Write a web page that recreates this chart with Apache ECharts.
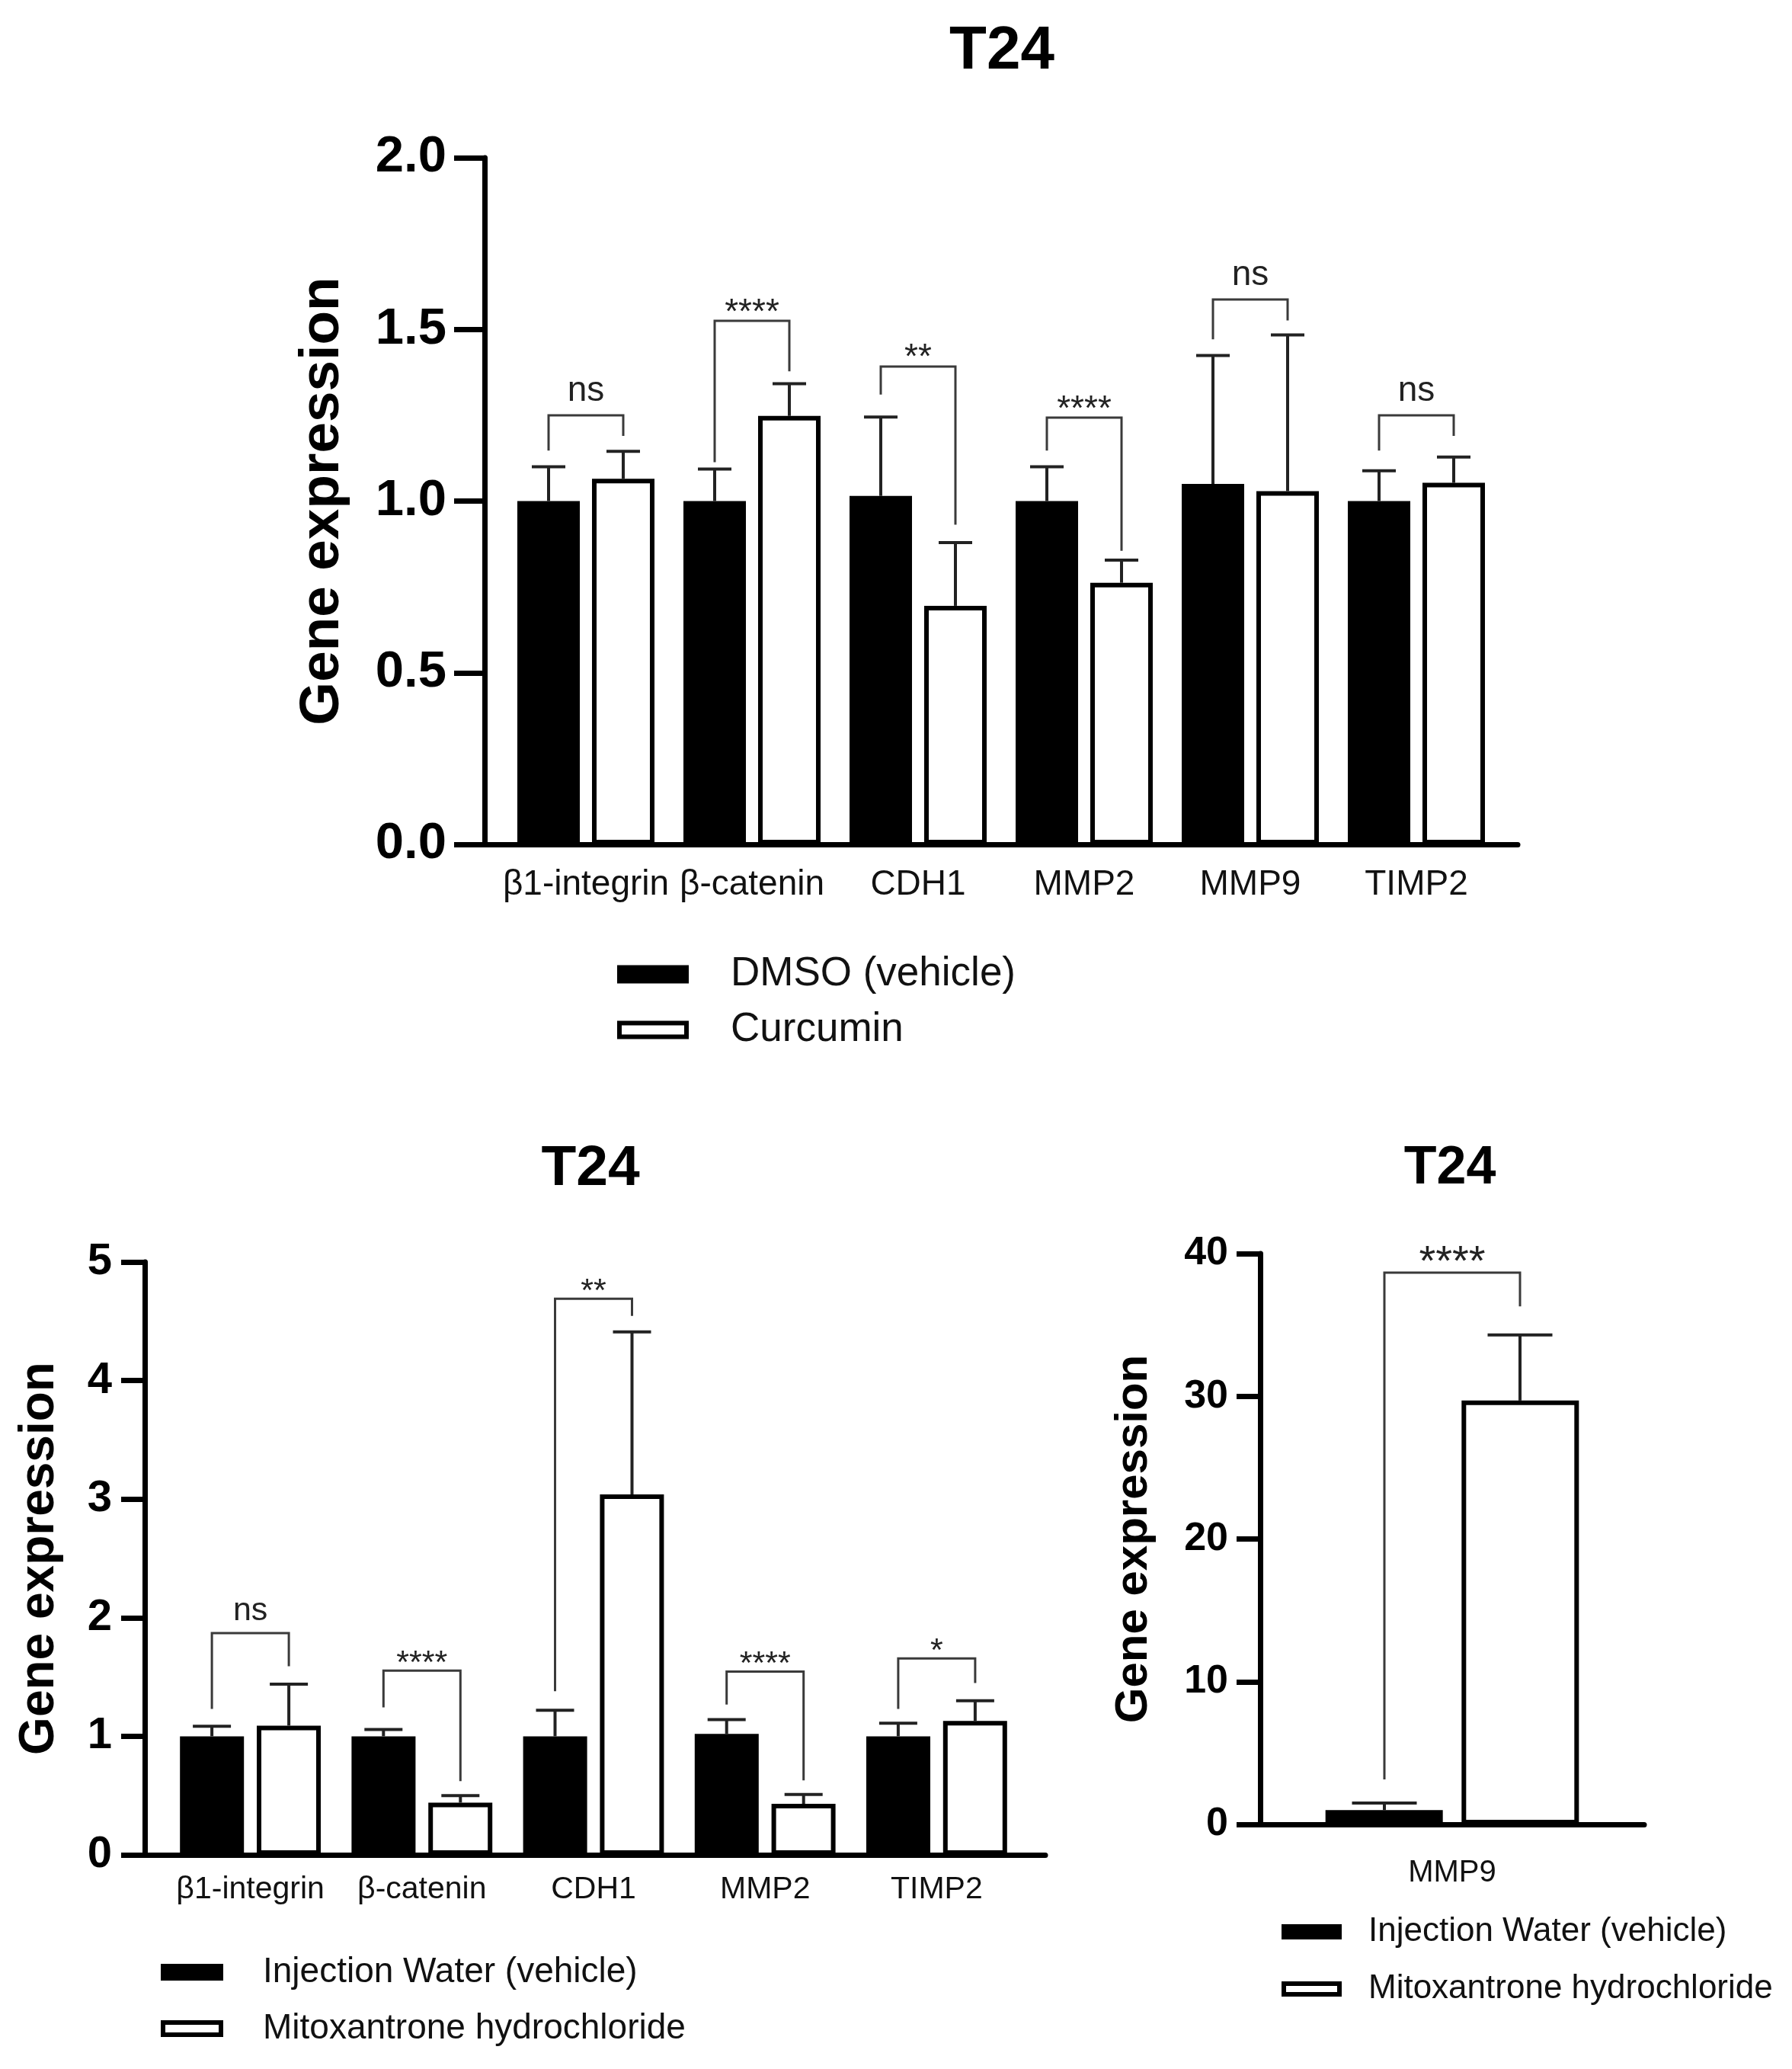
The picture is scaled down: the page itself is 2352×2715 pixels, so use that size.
<!DOCTYPE html>
<html><head><meta charset="utf-8">
<script src="https://cdn.jsdelivr.net/npm/echarts/dist/echarts.min.js"></script>
<style>html,body{margin:0;padding:0;background:#fff}#c{width:2352px;height:2715px}</style>
</head><body><div id="c"></div>
<script>
// ---------- Data: top chart (DMSO vs Curcumin) ----------
const cats1 = ['β1-integrin', 'β-catenin', 'CDH1', 'MMP2', 'MMP9', 'TIMP2'];
const dmso = [1.00, 1.00, 1.015, 1.00, 1.05, 1.00];
const dmsoUpper = [1.10, 1.093, 1.245, 1.10, 1.424, 1.088];
const curcumin = [1.065, 1.248, 0.695, 0.762, 1.029, 1.053];
const curcuminUpper = [1.145, 1.342, 0.879, 0.828, 1.484, 1.128];
const sig1 = ['ns', '****', '**', '****', 'ns', 'ns'];
const sig1Top = [1.25, 1.525, 1.392, 1.243, 1.587, 1.25];
const sig1Left = [1.147, 1.113, 1.31, 1.147, 1.471, 1.147];
const sig1Right = [1.19, 1.378, 0.931, 0.855, 1.526, 1.19];
const ticks1 = [0, 0.5, 1.0, 1.5, 2.0];

// ---------- Data: bottom-left chart (Injection water vs Mitoxantrone) ----------
const cats2 = ['β1-integrin', 'β-catenin', 'CDH1', 'MMP2', 'TIMP2'];
const water = [1.00, 1.00, 1.00, 1.02, 1.00];
const waterUpper = [1.085, 1.057, 1.22, 1.14, 1.11];
const mito = [1.09, 0.44, 3.04, 0.43, 1.13];
const mitoUpper = [1.44, 0.50, 4.41, 0.51, 1.30];
const sig2 = ['ns', '****', '**', '****', '*'];
const sig2Top = [1.87, 1.554, 4.69, 1.545, 1.656];
const sig2Left = [1.23, 1.244, 1.38, 1.268, 1.23];
const sig2Right = [1.59, 0.622, 4.545, 0.628, 1.45];
const ticks2 = [0, 1, 2, 3, 4, 5];

// ---------- Data: bottom-right chart (MMP9) ----------
const cats3 = ['MMP9'];
const water3 = [1.0];
const water3Upper = [1.5];
const mito3 = [29.7];
const mito3Upper = [34.3];
const sig3 = ['****'];
const sig3Top = [38.66];
const sig3Left = [3.15];
const sig3Right = [36.3];
const ticks3 = [0, 10, 20, 30, 40];

const S1 = 'DMSO (vehicle)', S2 = 'Curcumin';
const W1 = 'Injection Water (vehicle)', W2 = 'Mitoxantrone hydrochloride';
const FF = '"Liberation Sans", Arial, Helvetica, sans-serif';

function errSeries(xi, yi, vals, ups, off, capW, lw) {
  return {
    type: 'custom', xAxisIndex: xi, yAxisIndex: yi, clip: false, z: 4, silent: true,
    data: vals.map((v, i) => [i, v, ups[i]]),
    renderItem: (p, api) => {
      const b = api.coord([api.value(0), api.value(1)]);
      const t = api.coord([api.value(0), api.value(2)]);
      const x = b[0] + off;
      return { type: 'group', children: [
        { type: 'line', shape: { x1: x, y1: b[1], x2: x, y2: t[1] }, style: { stroke: '#222', lineWidth: lw } },
        { type: 'line', shape: { x1: x - capW / 2, y1: t[1], x2: x + capW / 2, y2: t[1] }, style: { stroke: '#222', lineWidth: lw } }
      ] };
    }
  };
}
function bracketSeries(xi, yi, tops, lefts, rights, labels, off, fs, lw) {
  return {
    type: 'custom', xAxisIndex: xi, yAxisIndex: yi, clip: false, z: 5, silent: true,
    data: tops.map((t, i) => [i, t, lefts[i], rights[i]]),
    renderItem: (p, api) => {
      const c = api.value(0);
      const tp = api.coord([c, api.value(1)]);
      const l = api.coord([c, api.value(2)]);
      const r = api.coord([c, api.value(3)]);
      const xl = tp[0] - off, xr = tp[0] + off;
      const lab = labels[p.dataIndex];
      const dy = lab.indexOf('*') >= 0 ? -0.22 * fs : -0.68 * fs;
      return { type: 'group', children: [
        { type: 'polyline', shape: { points: [[xl, l[1]], [xl, tp[1]], [xr, tp[1]], [xr, r[1]]] },
          style: { stroke: '#3a3a3a', lineWidth: lw, fill: null } },
        { type: 'text', style: { text: lab, x: (xl + xr) / 2, y: tp[1] + dy, align: 'center', verticalAlign: 'middle',
          fontSize: fs, fontFamily: FF, fill: '#222' } }
      ] };
    }
  };
}
function valueYAxis(gi, max, interval, fs, nameFs, nameGap, margin, tickLen, fmt) {
  return {
    gridIndex: gi, type: 'value', min: 0, max: max, interval: interval,
    name: 'Gene expression', nameLocation: 'middle', nameRotate: 90, nameGap: nameGap,
    nameTextStyle: { fontSize: nameFs, fontWeight: 'bold', color: '#000', fontFamily: FF },
    axisLine: { show: true, lineStyle: { color: '#000', width: 7 } },
    axisTick: { show: true, length: tickLen, lineStyle: { color: '#000', width: 7 } },
    axisLabel: { fontSize: fs, fontWeight: 'bold', color: '#000', fontFamily: FF, margin: margin, formatter: fmt },
    splitLine: { show: false }
  };
}
function hiddenY(gi, max) { return { gridIndex: gi, type: 'value', min: 0, max: max, show: false }; }
function lineX(gi) {
  return { gridIndex: gi, type: 'value', min: 0, max: 1, axisLine: { show: true, onZero: false, lineStyle: { color: '#000', width: 7 } },
    axisTick: { show: false }, axisLabel: { show: false }, splitLine: { show: false } };
}
function catX(gi, cats, fs, margin, showLine) {
  return { gridIndex: gi, type: 'category', data: cats,
    axisLine: { show: showLine, onZero: false, lineStyle: { color: '#000', width: 7 } },
    axisTick: { show: false },
    axisLabel: { fontSize: fs, color: '#111', fontFamily: FF, margin: margin, interval: 0 },
    splitLine: { show: false } };
}
function barPair(xi, yi, n1, d1, n2, d2, bw, gap, bwid) {
  return [
    { type: 'bar', name: n1, xAxisIndex: xi, yAxisIndex: yi, data: d1, barWidth: bw, barGap: gap,
      itemStyle: { color: '#000', borderColor: '#000', borderWidth: bwid }, silent: true },
    { type: 'bar', name: n2, xAxisIndex: xi, yAxisIndex: yi, data: d2, barWidth: bw, barGap: gap,
      itemStyle: { color: '#fff', borderColor: '#000', borderWidth: bwid }, silent: true }
  ];
}
function legend(n1, n2, left, top, iw, ih, fs, gap, pad) {
  return { data: [
      { name: n1, itemStyle: { color: '#000', borderColor: '#000', borderWidth: 6 } },
      { name: n2, itemStyle: { color: '#fff', borderColor: '#000', borderWidth: 6 } }
    ],
    orient: 'vertical', left: left, top: top, itemWidth: iw, itemHeight: ih, itemGap: gap,
    icon: 'rect', selectedMode: false, padding: 0,
    textStyle: { fontSize: fs, color: '#111', fontFamily: FF, padding: [0, 0, 0, pad] } };
}

const chart = echarts.init(document.getElementById('c'), null, { renderer: 'canvas' });
const option = {
  backgroundColor: '#fff',
  animation: false,
  title: [
    { text: 'T24', left: 1315, top: 28, textAlign: 'center', padding: 0, textStyle: { fontSize: 80, fontWeight: 'bold', color: '#000', fontFamily: FF } },
    { text: 'T24', left: 775, top: 1497, textAlign: 'center', padding: 0, textStyle: { fontSize: 75, fontWeight: 'bold', color: '#000', fontFamily: FF } },
    { text: 'T24', left: 1903, top: 1499, textAlign: 'center', padding: 0, textStyle: { fontSize: 70, fontWeight: 'bold', color: '#000', fontFamily: FF } }
  ],
  grid: [
    { left: 636, top: 207, width: 1356, height: 901, outerBoundsMode: 'none' },
    { left: 660, top: 207, width: 1308, height: 901, outerBoundsMode: 'none' },
    { left: 190, top: 1656, width: 1182, height: 778, outerBoundsMode: 'none' },
    { left: 216, top: 1656, width: 1126, height: 778, outerBoundsMode: 'none' },
    { left: 1654, top: 1645, width: 504, height: 749, outerBoundsMode: 'none' }
  ],
  xAxis: [
    lineX(0),
    catX(1, cats1, 46, 30, false),
    lineX(2),
    catX(3, cats2, 41, 25, false),
    catX(4, cats3, 40, 44, true)
  ],
  yAxis: [
    valueYAxis(0, ticks1[ticks1.length - 1], ticks1[1] - ticks1[0], 67, 73, 176, 50, 40, v => v.toFixed(1)),
    hiddenY(1, ticks1[ticks1.length - 1]),
    valueYAxis(2, ticks2[ticks2.length - 1], ticks2[1] - ticks2[0], 58, 64, 106, 43, 31, v => String(v)),
    hiddenY(3, ticks2[ticks2.length - 1]),
    valueYAxis(4, ticks3[ticks3.length - 1], ticks3[1] - ticks3[0], 52, 60, 136, 42, 31, v => String(v))
  ],
  legend: [
    legend(S1, S2, 810, 1252, 88, 18, 53, 20, 53),
    legend(W1, W2, 211, 2565, 76, 16, 46, 28, 50),
    legend(W1, W2, 1682, 2513, 73, 14, 44, 31, 33)
  ],
  series: [
    ...barPair(1, 1, S1, dmso, S2, curcumin, 82, '19.5%', 6),
    errSeries(1, 1, dmso, dmsoUpper, -49, 44, 4),
    errSeries(1, 1, curcumin, curcuminUpper, 49, 44, 4),
    bracketSeries(1, 1, sig1Top, sig1Left, sig1Right, sig1, 49, 46, 3),
    ...barPair(3, 3, W1, water, W2, mito, 84, '20%', 6),
    errSeries(3, 3, water, waterUpper, -50.5, 50, 4),
    errSeries(3, 3, mito, mitoUpper, 50.5, 50, 4),
    bracketSeries(3, 3, sig2Top, sig2Left, sig2Right, sig2, 50.5, 43, 3),
    ...barPair(4, 4, W1, water3, W2, mito3, 154, '16%', 6),
    errSeries(4, 4, water3, water3Upper, -89, 85, 4),
    errSeries(4, 4, mito3, mito3Upper, 89, 85, 4),
    bracketSeries(4, 4, sig3Top, sig3Left, sig3Right, sig3, 89, 56, 3)
  ]
};
chart.setOption(option);
</script>
</body></html>
